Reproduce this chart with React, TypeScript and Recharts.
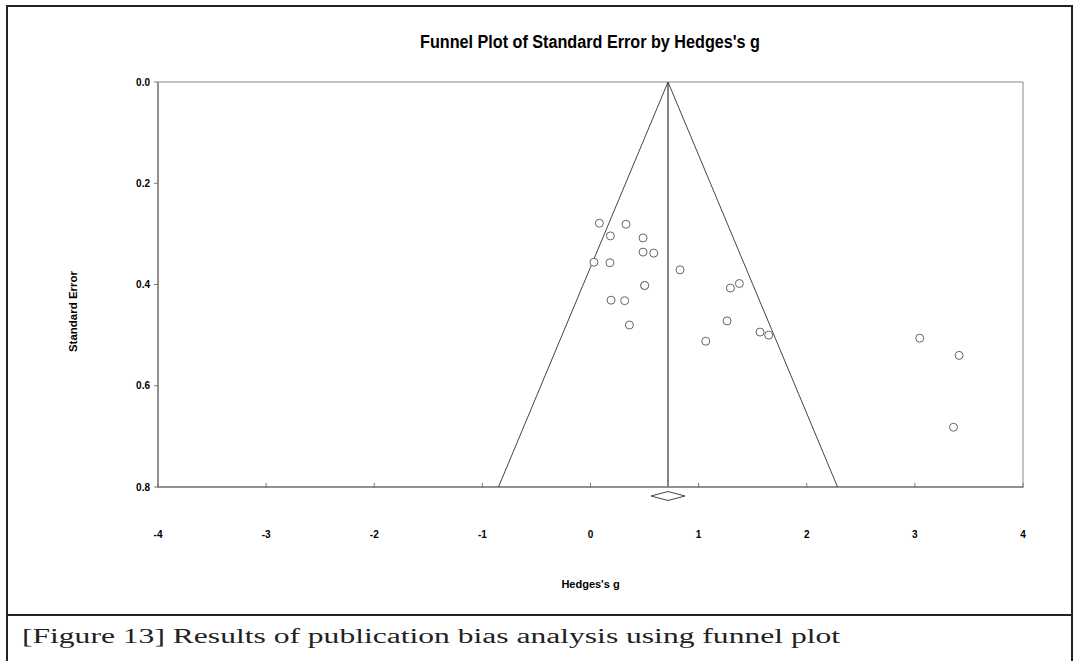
import { ScatterChart, Scatter, XAxis, YAxis, ReferenceLine, ReferenceArea, Label } from 'recharts'

// Hedges's g and standard error
const studyG = [0.082, 0.328, 0.184, 0.486, 0.486, 0.585, 0.032, 0.18, 0.828, 0.501, 0.501, 0.19, 0.316, 0.36, 1.377, 1.294, 1.263, 1.066, 1.568, 1.648, 3.045, 3.409, 3.357]
const studySE = [0.279, 0.281, 0.304, 0.308, 0.336, 0.338, 0.356, 0.357, 0.371, 0.402, 0.402, 0.431, 0.432, 0.48, 0.398, 0.407, 0.472, 0.512, 0.494, 0.5, 0.506, 0.54, 0.682]

const pooledG = 0.717
const funnelG = [-0.851, 0.717, 2.285]
const funnelSE = [0.8, 0, 0.8]

const xTicks = [-4, -3, -2, -1, 0, 1, 2, 3, 4]
const yTicks = [0, 0.2, 0.4, 0.6, 0.8]

const studies = studyG.map((g, i) => ({ g, se: studySE[i] }))
const funnel = funnelG.map((g, i) => ({ g, se: funnelSE[i] }))
const pooled = [{ g: pooledG, se: 0.8 }]

const bold = { fontFamily: '"Liberation Sans", Arial, sans-serif', fontWeight: 'bold' as const }

const Circle = ({ cx, cy }: any) => <circle cx={cx} cy={cy} r={4} fill="#fff" stroke="#666" strokeWidth={1} />
const Nothing = () => <g />
const Diamond = ({ cx, cy }: any) => (
  <polygon
    points={`${cx - 17},${cy + 9} ${cx},${cy + 4.5} ${cx + 17},${cy + 9} ${cx},${cy + 13.5}`}
    fill="#fff"
    stroke="#444"
    strokeWidth={1}
  />
)

const XTick = ({ x, y, payload }: any) => (
  <g>
    <line x1={x} x2={x} y1={y - 4} y2={y + 1} stroke="#777" />
    <text x={x} y={y + 51} textAnchor="middle" fontSize={10} fill="#000" style={bold}>{payload.value}</text>
  </g>
)

const App = () => {
  return (
    <div style={{ position: 'relative', width: 1074, height: 661, overflow: 'hidden', background: '#fff' }}>
      <style>{'body { margin: 0; }'}</style>
      <div style={{ position: 'absolute', left: 0, top: 0 }}>
        <ScatterChart width={1074} height={615} margin={{ top: 82, right: 51, bottom: 0, left: 0 }}>
          <XAxis
            type="number"
            dataKey="g"
            domain={[-4, 4]}
            ticks={xTicks}
            interval={0}
            height={128}
            tickSize={0}
            tickMargin={0}
            tickLine={false}
            tick={<XTick />}
            axisLine={{ stroke: '#808080', strokeWidth: 1.5 }}
          >
            <Label
              content={({ viewBox }: any) => (
                <text x={viewBox.x + viewBox.width / 2} y={viewBox.y + 101} textAnchor="middle" fontSize={11} fill="#000" style={bold}>
                  Hedges's g
                </text>
              )}
            />
          </XAxis>
          <YAxis
            type="number"
            dataKey="se"
            domain={[0, 0.8]}
            reversed
            ticks={yTicks}
            interval={0}
            width={158}
            tickSize={4}
            tickMargin={4}
            tickFormatter={(v) => v.toFixed(1)}
            tick={{ fontSize: 10, fill: '#000', ...bold }}
            tickLine={{ stroke: '#777' }}
            axisLine={{ stroke: '#808080', strokeWidth: 1.5 }}
          >
            <Label
              content={({ viewBox }: any) => {
                const cx = viewBox.x + 73
                const cy = viewBox.y + viewBox.height / 2 + 27
                return (
                  <text x={cx} y={cy} transform={`rotate(-90, ${cx}, ${cy})`} textAnchor="middle" dominantBaseline="central" fontSize={11.5} fill="#000" style={bold}>
                    Standard Error
                  </text>
                )
              }}
            />
          </YAxis>
          <ReferenceArea x1={-4} x2={4} y1={0} y2={0.8} fill="none" stroke="#888" strokeWidth={1} ifOverflow="visible" />
          <ReferenceLine x={pooledG} stroke="#333" strokeWidth={1.2} />
          <Scatter data={funnel} shape={<Nothing />} line={{ stroke: '#444', strokeWidth: 1 }} isAnimationActive={false} />
          <Scatter data={studies} shape={<Circle />} isAnimationActive={false} />
          <Scatter data={pooled} shape={<Diamond />} isAnimationActive={false} />
        </ScatterChart>
      </div>
      <svg style={{ position: 'absolute', left: 0, top: 0, pointerEvents: 'none' }} width={1074} height={661}>
        <text x={590} y={48} textAnchor="middle" fontSize={17.5} fill="#000" textLength={340} lengthAdjust="spacingAndGlyphs" style={bold}>
          Funnel Plot of Standard Error by Hedges's g
        </text>
        <path d="M7 700 V6 H1072 V700" fill="none" stroke="#222" strokeWidth={2} />
        <line x1={7} x2={1072} y1={615} y2={615} stroke="#222" strokeWidth={2} />
        <text x={22} y={643} fontSize={20} fill="#222" textLength={818} lengthAdjust="spacingAndGlyphs" fontFamily='"Liberation Serif", "Times New Roman", serif'>
          [Figure 13] Results of publication bias analysis using funnel plot
        </text>
      </svg>
    </div>
  )
}

export default App
